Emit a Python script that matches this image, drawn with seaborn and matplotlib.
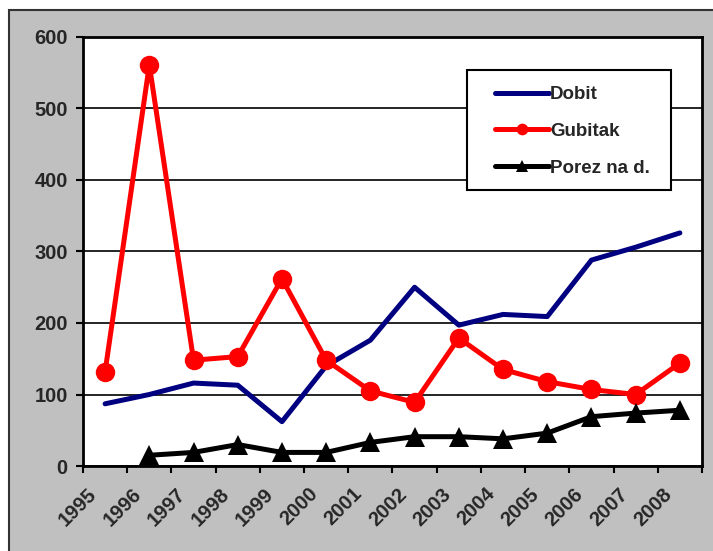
import numpy as np
import pandas as pd
import matplotlib
matplotlib.use("Agg")
import matplotlib.pyplot as plt
import seaborn as sns
from matplotlib.patches import Rectangle

years = ['1995', '1996', '1997', '1998', '1999', '2000', '2001',
         '2002', '2003', '2004', '2005', '2006', '2007', '2008']
dobit = [87, 100, 116, 113, 62, 140, 176, 250, 197, 212, 209, 288, 306, 326]
gubitak = [132, 561, 148, 153, 262, 148, 105, 89, 179, 135, 118, 107, 100, 144]
porez = [np.nan, 15, 19, 30, 19, 19, 33, 41, 41, 38, 46, 69, 74, 78]

df = pd.DataFrame({'pos': np.arange(len(years)), 'Dobit': dobit,
                   'Gubitak': gubitak, 'Porez na d.': porez})

sns.set_style('white')
plt.rcParams['font.family'] = ['Liberation Sans', 'DejaVu Sans']
plt.rcParams['font.weight'] = 'bold'

fig = plt.figure(figsize=(7.13, 5.51), dpi=100)
fig.patch.set_facecolor('white')
# grey chart area with dark border (cut by the image edge on right/bottom)
fig.patches.append(Rectangle((9 / 713, -0.05), 1.1, 1 - 10 / 551 + 0.05,
                             transform=fig.transFigure, facecolor='#C0C0C0',
                             edgecolor='#333333', linewidth=1.5, zorder=-10))

ax = fig.add_axes([83 / 713, 85 / 551, 619 / 713, 429 / 551])
ax.set_facecolor('white')

sns.lineplot(data=df, x='pos', y='Dobit', ax=ax, color='#000080', lw=3.6,
             label='Dobit', zorder=3)
sns.lineplot(data=df, x='pos', y='Gubitak', ax=ax, color='#FF0000', lw=3.6,
             marker='o', markersize=14, markeredgewidth=0, label='Gubitak', zorder=4)
sns.lineplot(data=df.dropna(), x='pos', y='Porez na d.', ax=ax, color='black', lw=3.6,
             marker='^', markersize=14, markeredgewidth=0, label='Porez na d.', zorder=5)

ax.set_xlim(-0.5, len(years) - 0.5)
ax.set_ylim(0, 600)
ax.set_yticks(range(0, 601, 100))
ax.yaxis.grid(True, color='black', linewidth=1.2)
ax.set_axisbelow(True)
ax.set_xlabel('')
ax.set_ylabel('')

ax.set_xticks(np.arange(len(years)) - 0.25, labels=years)
ax.set_xticks(np.arange(len(years) + 1) - 0.5, minor=True)
ax.tick_params(axis='x', which='major', length=0, pad=18, labelsize=14.5)
ax.tick_params(axis='x', which='minor', length=5, width=1.5, color='black', direction='out', bottom=True)
ax.tick_params(axis='y', length=5, width=1.5, color='black', direction='out', left=True, pad=6, labelsize=14.5)
for lab in ax.get_xticklabels():
    lab.set_rotation(45)
    lab.set_ha('right')
    lab.set_va('center')
    lab.set_rotation_mode('anchor')
    lab.set_fontweight('bold')
for lab in ax.get_yticklabels():
    lab.set_fontweight('bold')

for s in ax.spines.values():
    s.set_color('black')
    s.set_linewidth(2)

# legend box
ax.add_patch(Rectangle((0.62, 0.643), 0.33, 0.28, transform=ax.transAxes,
                       facecolor='white', edgecolor='black', linewidth=1.5, zorder=6))
leg = ax.legend(loc='upper left', bbox_to_anchor=(0.638, 0.925), frameon=False,
                handlelength=2.9, handletextpad=0.05, labelspacing=1.05,
                markerscale=0.6, prop={'weight': 'bold', 'size': 13.5})
leg.set_zorder(7)

fig.savefig('out.png', dpi=100, facecolor=fig.get_facecolor())
